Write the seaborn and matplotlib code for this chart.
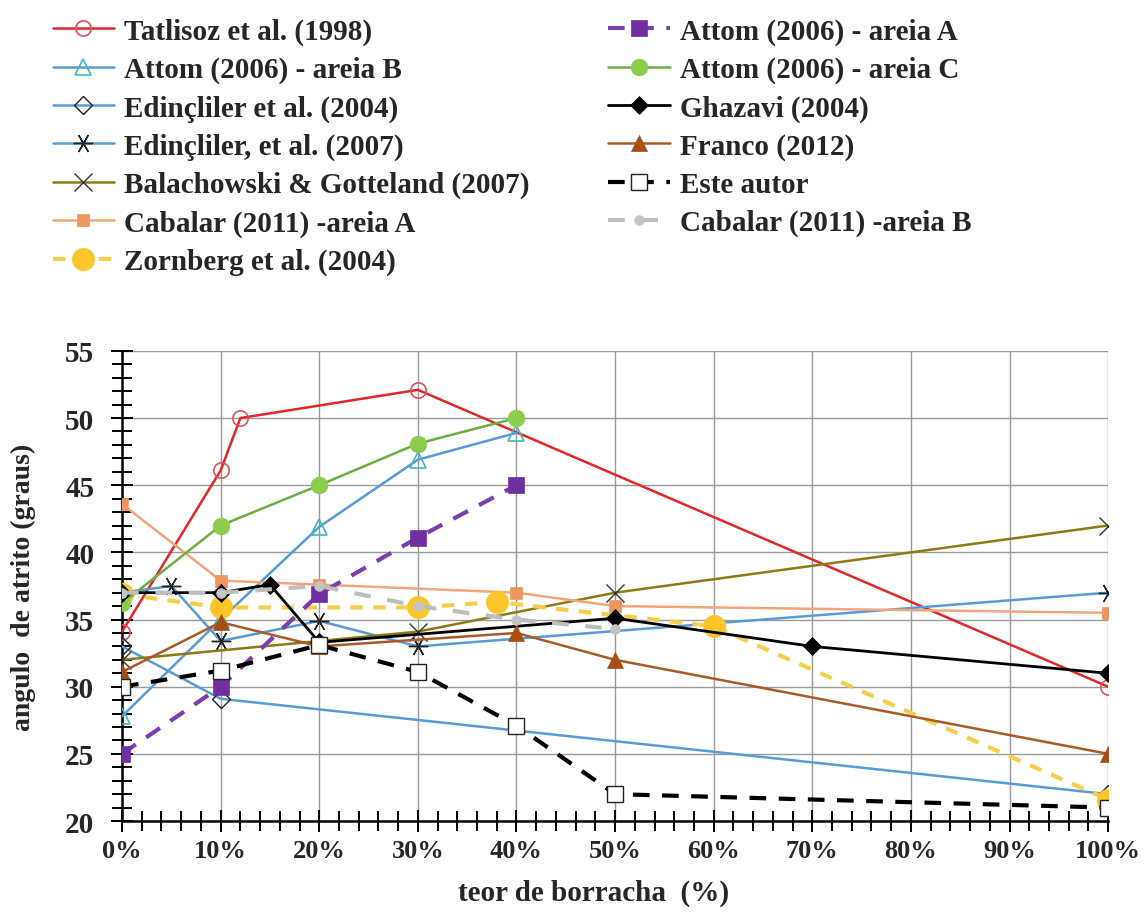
import matplotlib
matplotlib.use("Agg")
import matplotlib.pyplot as plt
import seaborn as sns
from matplotlib.ticker import MultipleLocator, FuncFormatter

# dados (teor de borracha em %, ângulo de atrito em graus)
tatlisoz_x = [0, 10, 12, 30, 100]
tatlisoz_y = [34.1, 46.1, 50.0, 52.1, 30.0]

attom_b_x = [0, 10, 20, 30, 40]
attom_b_y = [27.8, 35.0, 41.9, 46.9, 48.9]

edin2004_x = [0, 10, 100]
edin2004_y = [33.0, 29.1, 22.0]

edin2007_x = [0, 5, 10, 20, 30, 100]
edin2007_y = [37.0, 37.5, 33.4, 34.9, 33.0, 37.0]

bala_x = [0, 30, 50, 100]
bala_y = [32.0, 34.1, 37.0, 42.0]

cabalar_a_x = [0, 10, 20, 40, 50, 100]
cabalar_a_y = [43.6, 37.9, 37.6, 37.0, 36.0, 35.5]

zornberg_x = [0, 10, 30, 38, 60, 100]
zornberg_y = [36.9, 35.9, 35.9, 36.3, 34.5, 21.6]

attom_a_x = [0, 10, 20, 30, 40]
attom_a_y = [25.0, 30.0, 36.9, 41.1, 45.0]

attom_c_x = [0, 10, 20, 30, 40]
attom_c_y = [36.2, 42.0, 45.0, 48.1, 50.0]

ghazavi_x = [0, 10, 15, 20, 50, 70, 100]
ghazavi_y = [37.0, 37.0, 37.6, 33.3, 35.1, 33.0, 31.0]

franco_x = [0, 10, 20, 40, 50, 100]
franco_y = [31.1, 34.8, 33.0, 34.0, 32.0, 25.0]

este_x = [0, 10, 20, 30, 40, 50, 100]
este_y = [30.0, 31.2, 33.1, 31.1, 27.1, 22.0, 21.0]

cabalar_b_x = [0, 10, 20, 30, 40, 50]
cabalar_b_y = [37.0, 37.0, 37.5, 36.0, 35.0, 34.3]

sns.set_theme(style="white")
plt.rcParams['font.family'] = ['Liberation Serif', 'DejaVu Serif']
plt.rcParams['font.weight'] = 'bold'

fig = plt.figure(figsize=(11.47, 9.2), dpi=100)
ax = fig.add_axes([0.1064, 0.1065, 0.8597, 0.511])

blue = '#5B9BD5'
series = [
    # (label, x, y, estilo)
    ("Tatlisoz et al. (1998)", tatlisoz_x, tatlisoz_y,
     dict(color='#E3262A', lw=1.8, marker='o', ms=11, mfc='none', mec='#E05060', mew=1.2)),
    ("Attom (2006) - areia B", attom_b_x, attom_b_y,
     dict(color=blue, lw=1.8, marker='^', ms=12, mfc='none', mec='#3FB8C4', mew=1.2)),
    ("Edinçliler et al. (2004)", edin2004_x, edin2004_y,
     dict(color=blue, lw=1.8, marker='D', ms=9, mfc='none', mec='#222222', mew=1.0)),
    ("Edinçliler, et al. (2007)", edin2007_x, edin2007_y,
     dict(color=blue, lw=1.8, marker=(6, 2, 90), ms=14, mfc='none', mec='#222222', mew=1.0)),
    ("Balachowski & Gotteland (2007)", bala_x, bala_y,
     dict(color='#8C7A14', lw=1.8, marker='x', ms=13, mfc='none', mec='#333333', mew=1.0)),
    ("Cabalar (2011) -areia A", cabalar_a_x, cabalar_a_y,
     dict(color='#F2A57C', lw=1.8, marker='s', ms=9, mfc='#EE9660', mec='#EE9660', mew=0.5)),
    ("Zornberg et al. (2004)", zornberg_x, zornberg_y,
     dict(color='#F6CF4A', lw=3.0, ls=(0, (3, 2.5)), marker='o', ms=16, mfc='#FCC52A', mec='#FCC52A', mew=0.5)),
    ("Attom (2006) - areia A", attom_a_x, attom_a_y,
     dict(color='#7A3FA8', lw=3.0, ls=(0, (4, 3)), marker='s', ms=11, mfc='#7030A0', mec='#7030A0', mew=0.5)),
    ("Attom (2006) - areia C", attom_c_x, attom_c_y,
     dict(color='#6EAD44', lw=1.8, marker='o', ms=12, mfc='#8CCB4C', mec='#8CCB4C', mew=0.5)),
    ("Ghazavi (2004)", ghazavi_x, ghazavi_y,
     dict(color='black', lw=2.0, marker='D', ms=9, mfc='black', mec='black', mew=0.5)),
    ("Franco (2012)", franco_x, franco_y,
     dict(color='#A85A2C', lw=1.8, marker='^', ms=12, mfc='#A64F14', mec='#A64F14', mew=0.5)),
    ("Este autor", este_x, este_y,
     dict(color='black', lw=3.0, ls=(0, (4, 3)), marker='s', ms=11, mfc='white', mec='#222222', mew=1.0)),
    ("Cabalar (2011) -areia B", cabalar_b_x, cabalar_b_y,
     dict(color='#BDBDBD', lw=3.0, ls=(0, (4, 4)), marker='o', ms=7, mfc='#C4C4C4', mec='#C4C4C4', mew=0.5)),
]

# os círculos amarelos ficam por cima de tudo
draw_order = [0, 1, 2, 3, 4, 5, 7, 8, 9, 10, 11, 12, 6]
for i in draw_order:
    label, xs, ys, st = series[i]
    sns.lineplot(x=xs, y=ys, ax=ax, label=label, sort=False, zorder=3 + i * 0.01, **st)

ax.set_xlim(0, 100)
ax.set_ylim(20, 55)
ax.xaxis.set_major_locator(MultipleLocator(10))
ax.xaxis.set_minor_locator(MultipleLocator(2))
ax.yaxis.set_major_locator(MultipleLocator(5))
ax.yaxis.set_minor_locator(MultipleLocator(1))
ax.xaxis.set_major_formatter(FuncFormatter(lambda v, p: f"{v:.0f}%"))

ax.grid(True, which='major', color='#9A9A9A', lw=1.0)
ax.set_axisbelow(True)
for s in ['top', 'right']:
    ax.spines[s].set_visible(False)
for s in ['left', 'bottom']:
    ax.spines[s].set_color('black')
    ax.spines[s].set_linewidth(1.8)

ax.tick_params(which='both', direction='inout', color='black', width=1.4,
               bottom=True, left=True)
ax.tick_params(which='major', length=16)
ax.tick_params(which='minor', length=14)
ax.tick_params(axis='y', which='major', pad=12, labelsize=21)
ax.tick_params(axis='x', which='major', pad=5, labelsize=19)
for lab in ax.get_xticklabels() + ax.get_yticklabels():
    lab.set_fontweight('bold')

ax.set_xlabel("teor de borracha  (%)", fontsize=21, fontweight='bold')
ax.set_ylabel("angulo  de atrito (graus)", fontsize=20, fontweight='bold')
ax.xaxis.set_label_coords(0.478, -0.123)
ax.yaxis.set_label_coords(-0.087, 0.5)

# legenda em duas colunas acima do gráfico
handles, labels = ax.get_legend_handles_labels()
order = [labels.index(s[0]) for s in series]
ax.legend([handles[k] for k in order], [labels[k] for k in order],
          ncol=2, loc='upper left', bbox_to_anchor=(0.046, 0.98),
          bbox_transform=fig.transFigure, frameon=False,
          prop={'size': 21, 'weight': 'bold'}, handlelength=2.1,
          handletextpad=0.35, columnspacing=2.7, labelspacing=0.38,
          borderaxespad=0, borderpad=0)

fig.savefig("out.png", dpi=100)
